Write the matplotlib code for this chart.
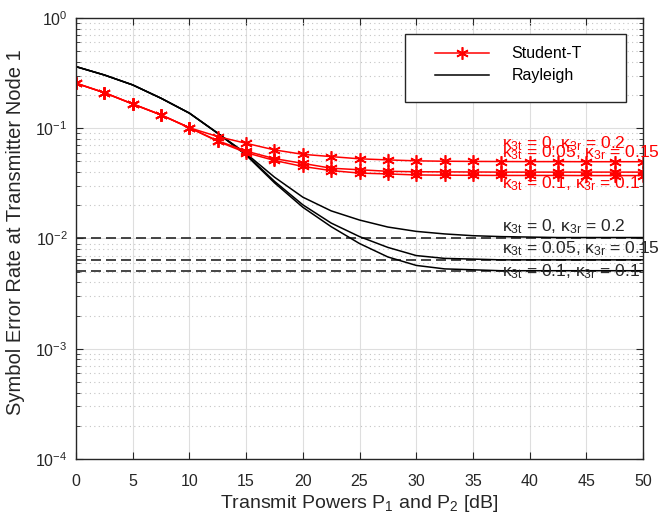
import numpy as np
import matplotlib
matplotlib.use('Agg')
import matplotlib.pyplot as plt
from matplotlib.ticker import LogLocator, NullFormatter
from matplotlib.patches import Rectangle

plt.rcParams['font.family'] = ['Liberation Sans', 'DejaVu Sans']
plt.rcParams['mathtext.fontset'] = 'custom'
plt.rcParams['mathtext.rm'] = 'Liberation Sans'
plt.rcParams['mathtext.it'] = 'Liberation Sans:italic'
plt.rcParams['mathtext.default'] = 'regular'

# transmit power grid (dB)
p_db = np.arange(0, 50.1, 2.5)

# Student-T results
st_k0 = [0.256, 0.21, 0.166, 0.132, 0.101, 0.084, 0.073, 0.0636, 0.058, 0.0553, 0.0528,
         0.0516, 0.0506, 0.0502, 0.0500, 0.0499, 0.0498, 0.0498, 0.0497, 0.0497, 0.0497]
st_k05 = [0.256, 0.21, 0.166, 0.132, 0.101, 0.077, 0.062, 0.053, 0.048, 0.0434, 0.042,
          0.0407, 0.0403, 0.0402, 0.0401, 0.0400, 0.0400, 0.0400, 0.0400, 0.0400, 0.0400]
st_k1 = [0.256, 0.21, 0.166, 0.132, 0.101, 0.076, 0.060, 0.051, 0.045, 0.0413, 0.0392,
         0.0385, 0.0377, 0.0375, 0.0374, 0.0373, 0.0373, 0.0373, 0.0372, 0.0372, 0.0372]

# Rayleigh results
ray_k0 = [0.362, 0.304, 0.247, 0.187, 0.137, 0.090, 0.059, 0.036, 0.0237, 0.0178, 0.0147,
          0.0127, 0.0116, 0.0110, 0.0106, 0.0104, 0.0103, 0.0102, 0.0102, 0.0102, 0.0102]
ray_k05 = [0.362, 0.304, 0.247, 0.187, 0.137, 0.090, 0.058, 0.033, 0.0202, 0.0138, 0.0104,
           0.0083, 0.0070, 0.0066, 0.0065, 0.0064, 0.0064, 0.0064, 0.0064, 0.0064, 0.0064]
ray_k1 = [0.362, 0.304, 0.247, 0.187, 0.137, 0.090, 0.057, 0.032, 0.0192, 0.0128, 0.0090,
          0.0068, 0.0057, 0.0053, 0.0052, 0.0051, 0.0051, 0.0051, 0.0051, 0.0051, 0.0051]

# asymptotic floors (dashed)
floors = [0.0100, 0.0064, 0.0051]

labels = [r'$\kappa_{3t}$ = 0, $\kappa_{3r}$ = 0.2',
          r'$\kappa_{3t}$ = 0.05, $\kappa_{3r}$ = 0.15',
          r'$\kappa_{3t}$ = 0.1, $\kappa_{3r}$ = 0.1']
red_label_y = [0.066, 0.0545, 0.0285]
black_label_y = [0.0116, 0.0073, 0.0045]
label_x = 37.6

fig = plt.figure(figsize=(6.68, 5.21), dpi=100)
ax = fig.add_axes([0.1138, 0.119, 0.8488, 0.8465])

dark = '#262626'
for fl in floors:
    ax.plot([0, 50], [fl, fl], color=dark, lw=1.2, linestyle=(0, (6, 3)))

for i, y in enumerate([ray_k0, ray_k05, ray_k1]):
    ax.plot(p_db, y, color='k', lw=1.1, label='Rayleigh' if i == 0 else None)

for i, y in enumerate([st_k0, st_k05, st_k1]):
    ax.plot(p_db, y, color='red', lw=1.1, marker=(6, 2, 0), markersize=9,
            markeredgewidth=1.2, label='Student-T' if i == 0 else None)

for lab, y in zip(labels, red_label_y):
    ax.text(label_x, y, lab, color='red', fontsize=12.5, va='baseline', ha='left', clip_on=False)
for lab, y in zip(labels, black_label_y):
    ax.text(label_x, y, lab, color=dark, fontsize=12.5, va='baseline', ha='left', clip_on=False)

ax.set_yscale('log')
ax.set_xlim(0, 50)
ax.set_ylim(1e-4, 1)
ax.set_xticks(np.arange(0, 51, 5))
ax.yaxis.set_major_locator(LogLocator(base=10, numticks=10))
ax.yaxis.set_minor_locator(LogLocator(base=10, subs=np.arange(2, 10), numticks=20))
ax.yaxis.set_minor_formatter(NullFormatter())

ax.grid(True, which='major', color='#dedede', lw=0.8, linestyle='-')
ax.grid(True, which='minor', axis='y', color='#c4c4c4', lw=0.8, linestyle=(0, (1, 3)))
ax.set_axisbelow(True)

ax.tick_params(which='both', direction='in', top=True, right=True, colors=dark, labelsize=11.5)
ax.tick_params(which='major', length=5)
ax.tick_params(which='minor', length=3)
ax.tick_params(axis='x', pad=11)
ax.tick_params(axis='y', pad=6)
for s in ax.spines.values():
    s.set_color(dark)
    s.set_linewidth(1.0)

ax.set_xlabel('Transmit Powers P$_1$ and P$_2$ [dB]', fontsize=14, color=dark)
ax.set_ylabel('Symbol Error Rate at Transmitter Node 1', fontsize=14.5, color=dark)
ax.xaxis.set_label_coords(0.5, -0.078)
ax.yaxis.set_label_coords(-0.09, 0.515)

# legend: frame drawn separately to get MATLAB-like padding
handles, labs = ax.get_legend_handles_labels()
order = [labs.index('Student-T'), labs.index('Rayleigh')]
ax.add_patch(Rectangle((0.580, 0.8095), 0.390, 0.154, transform=ax.transAxes,
                       facecolor='white', edgecolor=dark, lw=1.0, zorder=5))
leg = ax.legend([handles[i] for i in order], [labs[i] for i in order],
                loc='upper left', bbox_to_anchor=(0.633, 0.936), fontsize=11.5,
                frameon=False, borderpad=0, borderaxespad=0,
                handlelength=3.4, handletextpad=1.4, labelspacing=0.45)
leg.set_zorder(6)

fig.savefig('out.png', dpi=100)
